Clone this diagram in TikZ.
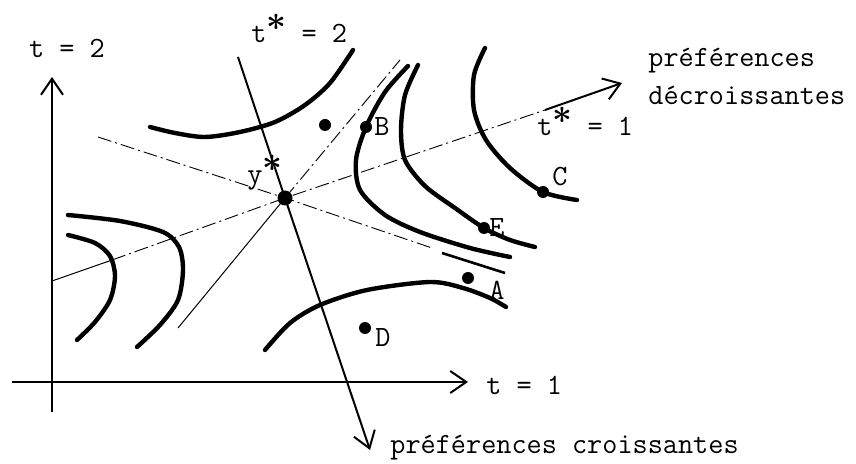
\documentclass[tikz,border=0pt]{standalone}
\usepackage{amsmath}
\usetikzlibrary{arrows.meta}
\tikzset{
  courbe/.style={line width=2.2pt, line cap=round},
  axe/.style={line width=1pt},
  fine/.style={line width=0.5pt},
  tirets/.style={line width=0.45pt, dash pattern=on 7pt off 2pt on 1pt off 2pt},
  point/.style={circle, fill, inner sep=0pt, minimum size=6pt},
  texte/.style={font=\fontsize{14.7}{19}\ttfamily, inner sep=0pt},
  fleche/.style={-{Straight Barb[length=8pt, width=11pt, line width=1pt]}}
}
\newcommand{\etoile}{\raisebox{1ex}[0pt][0pt]{\scalebox{1.2}{$\boldsymbol{\ast}$}}}

\begin{document}
\begin{tikzpicture}[x=0.5pt,y=-0.5pt]
\useasboundingbox (0,0) rectangle (856,464);

%axes
\coordinate (bas) at (52,412);
\coordinate (haut) at (52,77);
\coordinate (gauche) at (12,382);
\coordinate (droite) at (468,382);
\draw[axe,fleche] (bas) -- (haut);
\draw[axe,fleche] (gauche) -- (droite);
\node[texte] (tdeux) at (67,48) {t = 2};
\node[texte, anchor=west] (tun) at (486,385) {t = 1};

%the optimum y*
\node[point, minimum size=7.5pt] (ystar) at (285,198) {};
\node[texte, anchor=base west] (ylab) at (247,184) {y\etoile};

%lines through y*
\coordinate (c1) at (238,57);
\coordinate (c2) at (370,450);
\draw[axe,fleche] (c1) -- (ystar.center) -- (c2);
\node[texte, anchor=west] (croiss) at (390,448) {préférences croissantes};
\node[texte, anchor=base west] (tsdeux) at (251,43) {t\etoile{} = 2};

\coordinate (d1) at (178,328);
\coordinate (d2) at (400,60);
\draw[fine] (d1) -- (ystar.center);
\draw[tirets] (ystar.center) -- (d2);

\coordinate (e1) at (98,137);
\coordinate (e2) at (432,248);
\draw[tirets] (e1) -- (ystar.center) -- (e2);

\coordinate (f1) at (52,281);
\coordinate (f2) at (545,110);
\coordinate (f3) at (622,83);
\draw[fine] (f1) -- (112,260);
\draw[tirets] (112,260) -- (ystar.center) -- (f2);
\draw[axe,fleche] (f2) -- (f3);
\node[texte, anchor=base west] (tsun) at (537,136) {t\etoile{} = 1};
\node[texte, anchor=north west, align=left] (decroiss) at (648,48) {préférences\\décroissantes};

%indifference curves
\draw[courbe] plot[smooth] coordinates {(150,127) (175,133) (205,137) (240,132) (275,122) (305,105) (330,83) (353,50)};
\draw[courbe] plot[smooth] coordinates {(68,235) (95,243) (110,256) (115,276) (110,300) (95,322) (77,340)};
\draw[courbe] plot[smooth] coordinates {(68,215) (120,221) (163,232) (179,247) (183,270) (178,300) (160,325) (137,347)};
\draw[courbe] plot[smooth] coordinates {(408,66) (385,92) (366,127) (356,160) (360,190) (385,215) (420,232) (470,248) (510,257)};
\draw[courbe] plot[smooth] coordinates {(418,65) (405,95) (401,130) (405,160) (425,186) (455,208) (484,228) (510,240) (535,247)};
\draw[courbe] plot[smooth] coordinates {(485,48) (474,75) (474,110) (486,140) (510,168) (543,192) (577,200)};
\draw[courbe] plot[smooth] coordinates {(265,350) (290,323) (320,305) (367,290) (430,282) (463,288) (490,298) (506,307)};
\draw[line width=1.3pt] (442,253) -- (505,273);

%points
\node[point] (p) at (325,125) {};
\node[point] (b) at (366,127) {};
\node[texte, anchor=west] (lb) at (374,127) {B};
\node[point] (c) at (543,192) {};
\node[texte] (lc) at (560,177) {C};
\node[point] (e) at (484,228) {};
\node[texte, anchor=west] (le) at (489,228) {E};
\node[point] (a) at (468,278) {};
\node[texte] (la) at (497,290) {A};
\node[point] (d) at (365,328) {};
\node[texte] (ld) at (383,338) {D};

\end{tikzpicture}
\end{document}
